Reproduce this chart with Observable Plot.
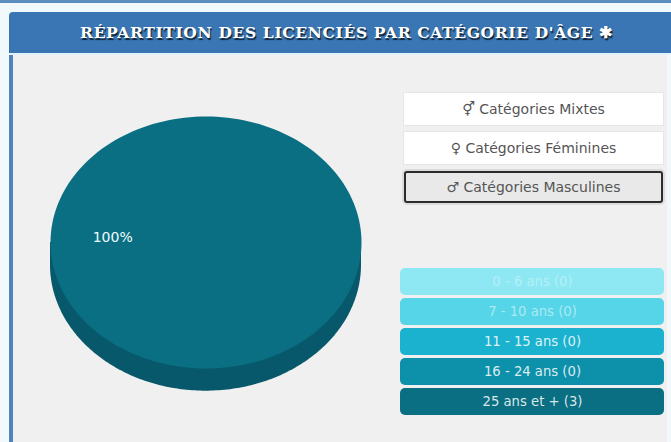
<!DOCTYPE html>
<html lang="fr">
<head>
<meta charset="utf-8">
<script src="https://cdn.jsdelivr.net/npm/d3@7"></script>
<script src="https://cdn.jsdelivr.net/npm/@observablehq/plot@0.6"></script>
<style>
  html, body { margin: 0; padding: 0; }
  body { width: 671px; height: 442px; overflow: hidden; background: #f2f9fd; position: relative; font-family: "DejaVu Sans", sans-serif; }
  #strip { position: absolute; left: 0; top: 0; width: 671px; height: 3px; background: #5b8dbd; }
  #panel { position: absolute; left: 9px; top: 14px; width: 658px; height: 428px; box-sizing: border-box; background: #f1f0f0; border-left: 4px solid #4f84ba; border-radius: 4px 0 0 0; }
  #header { position: absolute; left: 9px; top: 12px; width: 662px; height: 43px; background: #3a76b3; border-radius: 4px 0 0 0; border-bottom: 2px solid #e3f1fb; box-sizing: border-box;
    color: #fff; font: bold 15.5px/41px "DejaVu Serif", serif; letter-spacing: 0.65px; text-align: center; text-indent: 13px; text-shadow: 1px 2px 1px #102030; white-space: nowrap; }
  .plot { position: absolute; left: 0; top: 0; background: transparent; }
  .btn { position: absolute; left: 403px; width: 261px; height: 34px; box-sizing: border-box; background: #fff; border: 1px solid #e6e6e6; color: #555; font: 14px/32px "DejaVu Sans", sans-serif; text-align: center; white-space: nowrap; }
  .btn.on { left: 404px; width: 259px; height: 32px; background: #e9e9e9; border: 2px solid #2c2c2c; border-radius: 3px; line-height: 28px; box-shadow: 0 0 0 2px #dcdcdc; }
</style>
</head>
<body>
<div id="strip"></div>
<div id="panel"></div>
<div id="header"></div>
<div id="buttons"></div>
<script>
const titleText = "RÉPARTITION DES LICENCIÉS PAR CATÉGORIE D'ÂGE ✱";
const buttonLabels = ["⚥ Catégories Mixtes", "♀ Catégories Féminines", "♂ Catégories Masculines"];
const buttonTops = [92, 131, 171];
const activeButton = 2;

const ageLabels = ["0 - 6 ans", "7 - 10 ans", "11 - 15 ans", "16 - 24 ans", "25 ans et +"];
const ageCounts = [0, 0, 0, 0, 3];
const ageColors = ["#8ee8f3", "#55d5e7", "#1bb2d0", "#0d91aa", "#0a6f83"];
const ageSideColors = ["#70bcc5", "#44aabb", "#158ea6", "#0a7488", "#07586a"];
const ageTextOpacity = [0.35, 0.5, 0.85, 0.85, 0.85];

document.getElementById("header").textContent = titleText;
const btnHost = document.getElementById("buttons");
buttonLabels.forEach((label, i) => {
  const b = document.createElement("div");
  b.className = "btn" + (i === activeButton ? " on" : "");
  b.style.top = buttonTops[i] + "px";
  b.textContent = label;
  btnHost.appendChild(b);
});

const ages = ageLabels.map((label, i) => ({
  label, count: ageCounts[i], color: ageColors[i], side: ageSideColors[i],
  text: `${label} (${ageCounts[i]})`, opacity: ageTextOpacity[i]
}));

// Pie slices computed from the counts
const pieDepth = 0.18;
const arcs = d3.pie().sort(null).value(d => d.count).startAngle(Math.PI / 2).endAngle(Math.PI / 2 + 2 * Math.PI)(ages)
  .filter(a => a.data.count > 0);
const total = d3.sum(ageCounts);
const wedges = arcs.flatMap(a => {
  const n = 180, pts = [{ x: 0, y: 0, label: a.data.label, color: a.data.color }];
  for (let i = 0; i <= n; i++) {
    const t = a.startAngle + (a.endAngle - a.startAngle) * i / n;
    pts.push({ x: Math.sin(t), y: -Math.cos(t), label: a.data.label, color: a.data.color });
  }
  return pts;
});
const rim = arcs.flatMap(a => d3.range(0, 181).map(i => {
  const t = Math.PI * i / 180;
  return { x: -Math.cos(t), y0: 0, y1: Math.sin(t) + pieDepth, color: a.data.side };
}));
const labels = arcs.map(a => {
  const mid = (a.startAngle + a.endAngle) / 2;
  return { x: 0.6 * Math.sin(mid), y: -0.6 * Math.cos(mid), text: `${Math.round(100 * a.data.count / total)}%` };
});

const pie = Plot.plot({
  width: 400, height: 442, margin: 0,
  style: { background: "transparent" },
  x: { domain: [-1, 1], range: [50, 361], axis: null },
  y: { domain: [-1, 1], range: [116, 368], axis: null },
  marks: [
    Plot.areaY(rim, { x: "x", y1: "y0", y2: "y1", fill: "color" }),
    Plot.line(wedges, { x: "x", y: "y", z: "label", fill: "color", stroke: "none" }),
    Plot.text(labels, { x: "x", y: "y", text: "text", fill: "#f2fbfc", fontSize: 14, dy: -5, fontFamily: "DejaVu Sans" })
  ]
});
pie.classList.add("plot");
pie.style.position = "absolute"; pie.style.left = "0"; pie.style.top = "0";
document.body.appendChild(pie);

const legend = Plot.plot({
  width: 671, height: 442, margin: 0,
  style: { background: "transparent" },
  x: { domain: [0, 1], range: [400, 664], axis: null },
  y: { domain: ageLabels, range: [267, 416], paddingInner: 0.1, paddingOuter: 0, axis: null },
  marks: [
    Plot.barX(ages, { x1: () => 0, x2: () => 1, y: "label", fill: "color", rx: 5 }),
    Plot.text(ages, { x: () => 0.5, y: "label", text: "text", fill: "#fff", fillOpacity: "opacity", fontSize: 13.2, fontFamily: "DejaVu Sans" })
  ]
});
legend.classList.add("plot");
legend.style.position = "absolute"; legend.style.left = "0"; legend.style.top = "0";
legend.style.pointerEvents = "none";
document.body.appendChild(legend);
</script>
</body>
</html>
